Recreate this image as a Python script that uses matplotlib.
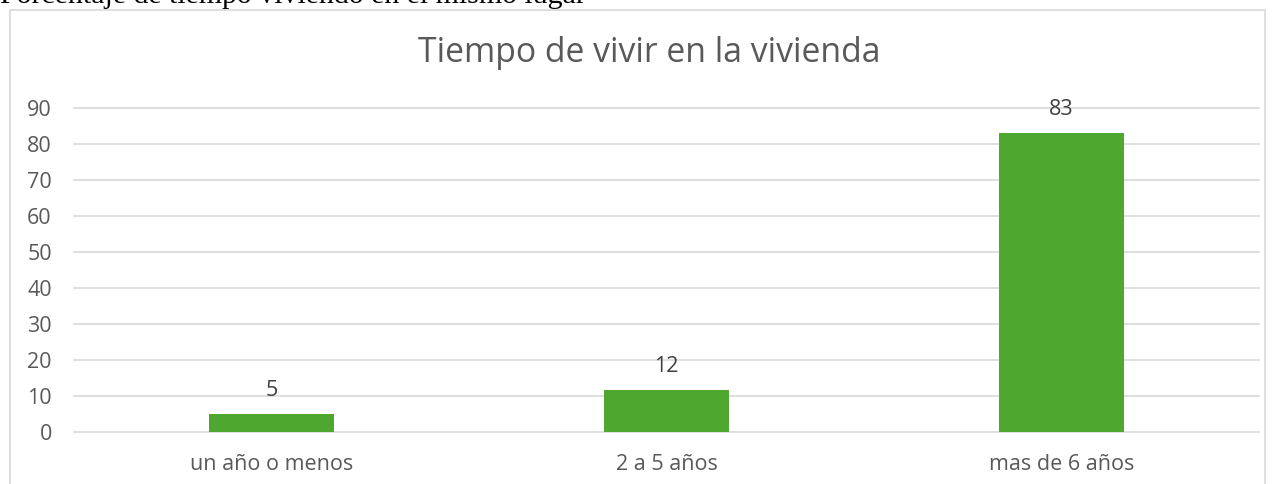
import matplotlib
matplotlib.use("Agg")
import matplotlib.pyplot as plt
from matplotlib.patches import Rectangle

categories = ["un año o menos", "2 a 5 años", "mas de 6 años"]
values = [5, 11.6, 83]
yticks = [0, 10, 20, 30, 40, 50, 60, 70, 80, 90]
title = "Tiempo de vivir en la vivienda"
caption = "Porcentaje de tiempo viviendo en el mismo lugar"

W, H = 1276, 484
fig = plt.figure(figsize=(W / 100, H / 100), dpi=100)

# chart border
fig.patches.append(Rectangle((10 / W, -0.1), (W - 11) / W - 10 / W, (H - 10) / H + 0.1,
                             transform=fig.transFigure, fill=False,
                             edgecolor="#d9d9d9", linewidth=1.2))

# cut-off caption at top
fig.text(0 / W, 1 - 3 / H, caption, fontfamily="Liberation Serif", fontsize=21.5,
         color="black", ha="left", va="baseline")

ax = fig.add_axes([74 / W, (H - 432) / H, (1259 - 74) / W, (432 - 108) / H])
x = list(range(len(categories)))
bars = ax.bar(x, values, width=0.314, color="#4EA72E", zorder=3)
ax.set_xlim(-0.5, len(categories) - 0.5)
ax.set_ylim(0, 90)
ax.set_yticks(yticks)
ax.set_xticks(x)
ax.set_xticklabels(categories)

for s in ax.spines.values():
    s.set_visible(False)
ax.grid(axis="y", color="#d9d9d9", linewidth=1.2, zorder=0)
for gl in ax.get_ygridlines():
    gl.set_clip_on(False)
ax.tick_params(axis="both", length=0, labelcolor="#595959", labelsize=15.5)
ax.tick_params(axis="y", pad=16)
ax.tick_params(axis="x", pad=16)
for lab in ax.get_xticklabels() + ax.get_yticklabels():
    lab.set_fontfamily("Open Sans")

for b, v in zip(bars, values):
    ax.annotate(f"{v:.0f}", (b.get_x() + b.get_width() / 2, v), xytext=(0, 9.5),
                textcoords="offset points", ha="center", va="bottom",
                fontsize=15.5, color="#404040", fontfamily="Open Sans")

fig.text(649 / W, 1 - 53 / H, title, ha="center", va="center", fontsize=24.3,
         color="#595959", fontfamily="Open Sans")

fig.savefig("out.png", dpi=100)
